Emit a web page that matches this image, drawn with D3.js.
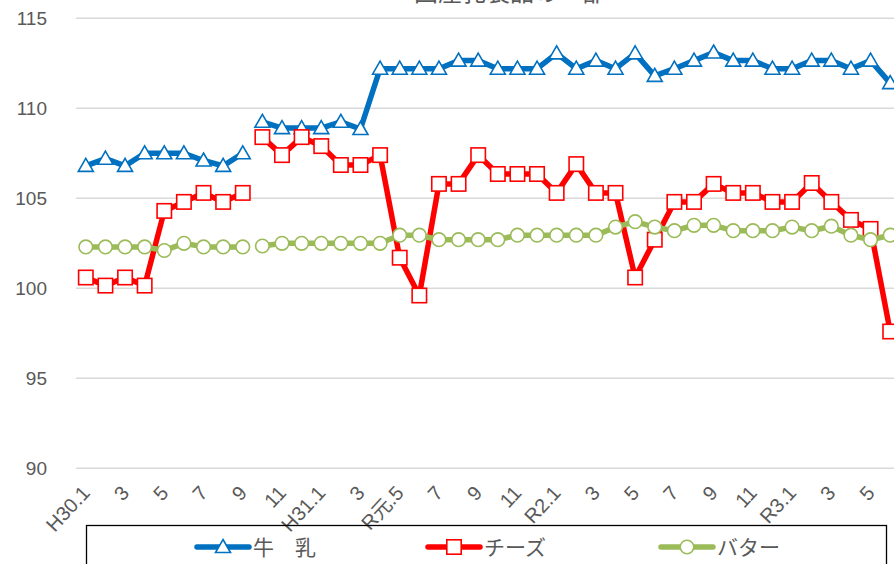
<!DOCTYPE html>
<html><head><meta charset="utf-8">
<script src="https://cdn.jsdelivr.net/npm/d3@7"></script>
<style>
html,body{margin:0;padding:0;background:#fff;overflow:hidden;}
svg{display:block;}
</style></head>
<body>
<svg id="chart" width="894" height="564"></svg>
<script>
const title = "国産乳製品の一部";
const categories = [
  "H30.1","H30.2","H30.3","H30.4","H30.5","H30.6","H30.7","H30.8","H30.9","H30.10","H30.11","H30.12",
  "H31.1","H31.2","H31.3","H31.4","R元.5","R元.6","R元.7","R元.8","R元.9","R元.10","R元.11","R元.12",
  "R2.1","R2.2","R2.3","R2.4","R2.5","R2.6","R2.7","R2.8","R2.9","R2.10","R2.11","R2.12",
  "R3.1","R3.2","R3.3","R3.4","R3.5","R3.6"
];
const tickLabels = ["H30.1","3","5","7","9","11","H31.1","3","R元.5","7","9","11","R2.1","3","5","7","9","11","R3.1","3","5"];
const yTicks = [90, 95, 100, 105, 110, 115];
const seriesNames = ["牛　乳", "チーズ", "バター"];
const milk = [106.8,107.2,106.8,107.5,107.5,107.5,107.1,106.8,107.5,
  109.25,108.9,108.9,108.9,109.25,108.85,112.2,
  112.2,112.2,112.2,112.65,112.65,112.2,112.2,112.2,
  113.05,112.2,112.65,112.2,113.05,111.8,112.2,112.65,
  113.1,112.65,112.65,112.2,112.2,112.65,112.65,112.2,112.65,111.4];
const cheese = [100.6,100.15,100.6,100.15,104.3,104.8,105.3,104.8,105.3,
  108.4,107.4,108.4,107.9,106.85,106.85,107.4,
  101.7,99.6,105.8,105.8,107.4,106.35,106.35,106.35,
  105.3,106.9,105.3,105.3,100.6,102.7,104.8,104.8,
  105.8,105.3,105.3,104.8,104.8,105.85,104.8,103.8,103.3,97.6];
const butter = [102.3,102.3,102.3,102.3,102.1,102.5,102.3,102.3,102.3,
  102.35,102.5,102.5,102.5,102.5,102.5,102.5,
  102.95,102.95,102.7,102.7,102.7,102.7,102.95,102.95,
  102.95,102.95,102.95,103.4,103.7,103.4,103.2,103.5,
  103.5,103.2,103.2,103.2,103.4,103.2,103.45,102.95,102.7,102.95];
// the line is broken between these categories (start index of a new segment)
const segmentStarts = [0, 9];

const colors = ["#0070C0", "#FF0000", "#9BBB59"];
const markers = ["triangle", "square", "circle"];

const svg = d3.select("#chart");
const plotLeft = 76, plotRight = 900, plotTop = 18.3, plotBottom = 468.3;

const x = d3.scaleBand().domain(categories).range([plotLeft, plotRight]);
const cx = d => x(d) + x.bandwidth() / 2;
const y = d3.scaleLinear().domain([90, 115]).range([plotBottom, plotTop]);

// gridlines
svg.append("g").selectAll("line").data(yTicks).join("line")
  .attr("x1", plotLeft).attr("x2", plotRight)
  .attr("y1", d => y(d)).attr("y2", d => y(d))
  .attr("stroke", "#D9D9D9").attr("stroke-width", 1.5);

// y axis labels
const yAxis = d3.axisLeft(y).tickValues(yTicks).tickSize(0).tickPadding(0);
const yg = svg.append("g").attr("transform", "translate(47,0)").call(yAxis);
yg.select(".domain").remove();
yg.selectAll("text").attr("font-family", "Liberation Sans, Arial, sans-serif")
  .attr("font-size", 19).attr("fill", "#595959");

// x axis labels (every second month)
const tickCats = categories.filter((c, i) => i % 2 === 0);
const xAxis = d3.axisBottom(x).tickValues(tickCats).tickSize(0)
  .tickFormat((d, i) => tickLabels[i]);
const xg = svg.append("g").attr("transform", `translate(0,${plotBottom})`).call(xAxis);
xg.select(".domain").remove();
xg.selectAll(".tick text")
  .attr("font-family", "Liberation Sans, 'Noto Sans CJK JP', Arial, sans-serif")
  .attr("font-size", 20).attr("fill", "#595959")
  .attr("text-anchor", "end")
  .attr("x", 0).attr("y", 0).attr("dy", "0.7em")
  .attr("transform", "translate(-5,16) rotate(-47)");

// title (cut off at the top, as in the reference)
svg.append("text").attr("x", 510).attr("y", 1).attr("text-anchor", "middle")
  .attr("font-family", "'Noto Sans CJK JP', sans-serif").attr("font-size", 24)
  .attr("fill", "#595959").text(title);

// series
const allSeries = [milk, cheese, butter];
const line = d3.line().x(d => cx(d.c)).y(d => y(d.v));

function drawMarker(g, type, color, px, py) {
  if (type === "triangle") {
    g.append("path").attr("transform", `translate(${px},${py})`)
      .attr("d", "M0,-7.5 L7.5,5.5 L-7.5,5.5 Z")
      .attr("fill", "#fff").attr("stroke", color).attr("stroke-width", 1.6);
  } else if (type === "square") {
    g.append("rect").attr("x", px - 7.2).attr("y", py - 7.2).attr("width", 14.4).attr("height", 14.4)
      .attr("fill", "#fff").attr("stroke", color).attr("stroke-width", 1.6);
  } else {
    g.append("circle").attr("cx", px).attr("cy", py).attr("r", 6.8)
      .attr("fill", "#fff").attr("stroke", color).attr("stroke-width", 1.6);
  }
}

allSeries.forEach((vals, si) => {
  const g = svg.append("g");
  const pts = vals.map((v, i) => ({ c: categories[i], v }));
  segmentStarts.forEach((s, k) => {
    const e = k + 1 < segmentStarts.length ? segmentStarts[k + 1] : pts.length;
    g.append("path").datum(pts.slice(s, e)).attr("d", line)
      .attr("fill", "none").attr("stroke", colors[si]).attr("stroke-width", 5.5)
      .attr("stroke-linejoin", "round");
  });
  pts.forEach(p => drawMarker(g, markers[si], colors[si], cx(p.c), y(p.v)));
});

// legend
svg.append("rect").attr("x", 86.5).attr("y", 525.5).attr("width", 800).attr("height", 60)
  .attr("fill", "none").attr("stroke", "#000").attr("stroke-width", 1.3);
const legendX = [197, 428, 661];
const legendY = 547;
seriesNames.forEach((name, si) => {
  const g = svg.append("g");
  g.append("line").attr("x1", legendX[si]).attr("x2", legendX[si] + 52)
    .attr("y1", legendY).attr("y2", legendY)
    .attr("stroke", colors[si]).attr("stroke-width", 5.5).attr("stroke-linecap", "round");
  drawMarker(g, markers[si], colors[si], legendX[si] + 26, legendY);
  g.append("text").attr("x", legendX[si] + 56).attr("y", legendY).attr("dy", "0.36em")
    .attr("font-family", "'Noto Sans CJK JP', sans-serif").attr("font-size", 21)
    .attr("fill", "#595959").text(name);
});
</script>
</body></html>
